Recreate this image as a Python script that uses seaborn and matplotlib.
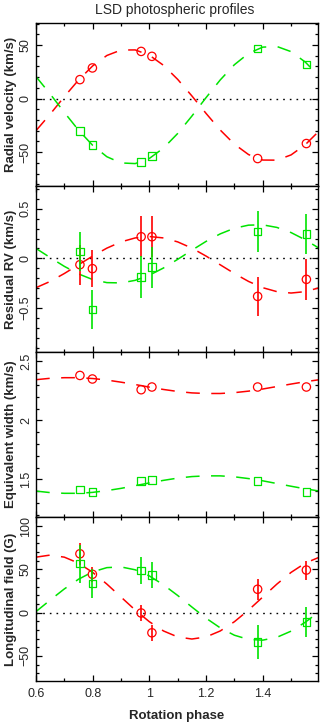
import matplotlib
matplotlib.use('Agg')
import matplotlib.pyplot as plt
import seaborn as sns
import pandas as pd
from matplotlib.ticker import MultipleLocator, FuncFormatter

# ---------------- data ----------------
phase = [0.755, 0.799, 0.971, 1.009, 1.382, 1.554]

rv_red = [17.7, 28.6, 44.0, 39.4, -55.9, -41.9]
rv_green = [-30.4, -43.5, -59.0, -53.7, 46.6, 31.7]

res_red = [-0.064, -0.104, 0.218, 0.218, -0.384, -0.212]
res_red_err = [0.20, 0.19, 0.205, 0.205, 0.20, 0.205]
res_green = [0.070, -0.515, -0.188, -0.090, 0.272, 0.244]
res_green_err = [0.20, 0.20, 0.21, 0.207, 0.205, 0.20]

ew_red = [2.381, 2.351, 2.260, 2.283, 2.283, 2.283]
ew_green = [1.413, 1.393, 1.483, 1.492, 1.483, 1.393]

bl_red = [68.0, 44.3, -0.4, -23.3, 27.0, 49.2]
bl_red_err = [13.0, 9.0, 9.5, 9.5, 12.0, 11.0]
bl_green = [56.6, 33.8, 48.6, 43.4, -33.9, -11.1]
bl_green_err = [22.0, 17.0, 15.5, 15.0, 19.5, 17.5]

# model curves, values every 0.05 in phase
fit_phase = [0.60, 0.65, 0.70, 0.75, 0.80, 0.85, 0.90, 0.95, 1.00, 1.05, 1.10,
             1.15, 1.20, 1.25, 1.30, 1.35, 1.40, 1.45, 1.50, 1.55, 1.60]
rv_red_fit = [-29.9, -14.5, 1.8, 17.3, 30.5, 40.2, 45.3, 45.4, 40.5, 31.0, 17.9,
              2.5, -13.8, -29.3, -42.5, -52.2, -57.3, -57.4, -52.5, -43.0, -29.9]
rv_green_fit = [20.5, 4.3, -12.9, -29.4, -43.6, -54.2, -60.0, -60.6, -55.8, -46.1, -32.5,
                -16.3, 0.9, 17.4, 31.6, 42.2, 48.0, 48.6, 43.8, 34.1, 20.5]
res_red_fit = [-0.296, -0.233, -0.153, -0.065, 0.023, 0.103, 0.166, 0.206, 0.220, 0.206, 0.166,
               0.103, 0.023, -0.065, -0.153, -0.233, -0.296, -0.336, -0.350, -0.336, -0.296]
res_green_fit = [0.100, 0.008, -0.081, -0.157, -0.214, -0.245, -0.248, -0.222, -0.170, -0.097, -0.010,
                 0.082, 0.171, 0.247, 0.304, 0.335, 0.338, 0.312, 0.260, 0.187, 0.100]
ew_red_fit = [2.345, 2.357, 2.362, 2.362, 2.355, 2.342, 2.324, 2.304, 2.282, 2.262, 2.245,
              2.233, 2.228, 2.228, 2.235, 2.248, 2.266, 2.287, 2.308, 2.328, 2.345]
ew_green_fit = [1.400, 1.387, 1.381, 1.381, 1.389, 1.404, 1.423, 1.446, 1.469, 1.491, 1.510,
                1.523, 1.529, 1.529, 1.521, 1.506, 1.487, 1.464, 1.441, 1.419, 1.400]
bl_red_fit = [64.1, 66.5, 64.1, 57.2, 46.5, 33.0, 18.0, 3.0, -10.5, -21.2, -28.1,
              -30.5, -28.1, -21.2, -10.5, 3.0, 18.0, 33.0, 46.5, 57.2, 64.1]
bl_green_fit = [1.2, 14.5, 27.4, 38.6, 47.1, 52.0, 52.8, 49.5, 42.4, 32.1, 19.8,
                6.5, -6.4, -17.6, -26.1, -31.0, -31.8, -28.5, -21.4, -11.1, 1.2]

ylabels = ['Radial velocity (km/s)', 'Residual RV (km/s)',
           'Equivalent width (km/s)', 'Longitudinal field (G)']
title = 'LSD photospheric profiles'
xlabel = 'Rotation phase'

# ---------------- style ----------------
sns.set_style('ticks')
plt.rcParams['font.family'] = ['Liberation Sans', 'DejaVu Sans']
plt.rcParams['axes.linewidth'] = 1.0

RED = '#ff0000'
GREEN = '#00e400'
DASH = (0, (9, 7.5))
DOT = (0, (1.2, 3.6))

W, H = 320, 724
fig = plt.figure(figsize=(W / 100, H / 100), dpi=100)
left, right = 36 / W, 318 / W
bounds = [(23, 186), (186, 352), (352, 517), (517, 681)]
ylims = [(-81.5, 70.5), (-0.945, 0.73), (1.18, 2.58), (-79, 110.5)]
majors = [50, 0.5, 0.5, 50]
minors = [10, 0.1, 0.1, 10]

panels = [
    (rv_red, None, rv_green, None, rv_red_fit, rv_green_fit, True),
    (res_red, res_red_err, res_green, res_green_err, res_red_fit, res_green_fit, True),
    (ew_red, None, ew_green, None, ew_red_fit, ew_green_fit, False),
    (bl_red, bl_red_err, bl_green, bl_green_err, bl_red_fit, bl_green_fit, True),
]

fmt = FuncFormatter(lambda v, p: ('%g' % round(v, 6)).replace('-', '\u2212'))

for i, ((top, bot), panel) in enumerate(zip(bounds, panels)):
    yr, yre, yg, yge, fr, fg, zero = panel
    ax = fig.add_axes([left, (H - bot) / H, right - left, (bot - top) / H])
    ax.set_xlim(0.6, 1.595)
    ax.set_ylim(*ylims[i])

    if zero:
        ax.axhline(0, color='black', lw=1.0, linestyle=DOT, zorder=1)

    df_fit = pd.DataFrame({'phase': fit_phase, 'red': fr, 'green': fg})
    sns.lineplot(data=df_fit, x='phase', y='red', ax=ax, color=RED, lw=1.1,
                 linestyle=DASH, zorder=2)
    sns.lineplot(data=df_fit, x='phase', y='green', ax=ax, color=GREEN, lw=1.1,
                 linestyle=DASH, zorder=2)

    sns.scatterplot(x=phase, y=yr, ax=ax, marker='o', s=36, color=RED,
                    facecolor='none', edgecolor=RED, linewidth=0.9, zorder=3)
    sns.scatterplot(x=phase, y=yg, ax=ax, marker='s', s=30, color=GREEN,
                    facecolor='none', edgecolor=GREEN, linewidth=0.9, zorder=3)
    if yre is not None:
        ax.errorbar(phase, yr, yerr=yre, fmt='none', ecolor=RED, elinewidth=1.2,
                    capsize=0, zorder=4)
        ax.errorbar(phase, yg, yerr=yge, fmt='none', ecolor=GREEN, elinewidth=1.2,
                    capsize=0, zorder=4)

    ax.xaxis.set_major_locator(MultipleLocator(0.2))
    ax.xaxis.set_minor_locator(MultipleLocator(0.1))
    ax.yaxis.set_major_locator(MultipleLocator(majors[i]))
    ax.yaxis.set_minor_locator(MultipleLocator(minors[i]))
    ax.xaxis.set_major_formatter(fmt)
    ax.yaxis.set_major_formatter(fmt)
    ax.tick_params(which='both', direction='in', top=True, right=True,
                   color='black', width=0.9, labelsize=9)
    ax.tick_params(which='major', length=4.5)
    ax.tick_params(which='minor', length=2.5)
    ax.tick_params(axis='x', pad=5, labelbottom=(i == 3))
    ax.tick_params(axis='y', pad=3)
    for lab in ax.get_yticklabels():
        lab.set_rotation(90)
        lab.set_va('center')
    ax.set_xlabel('')
    ax.set_ylabel(ylabels[i], fontsize=9.5, fontweight='bold')
    ax.yaxis.set_label_coords(-0.068, 0.5)
    for s in ax.spines.values():
        s.set_color('black')
        s.set_linewidth(1.0)

fig.text(175 / W, 1 - 10 / H, title, ha='center', va='center', fontsize=10)
fig.text(177 / W, 1 - 716 / H, xlabel, ha='center', va='center',
         fontsize=9.5, fontweight='bold')

fig.savefig('out.png', dpi=100)
